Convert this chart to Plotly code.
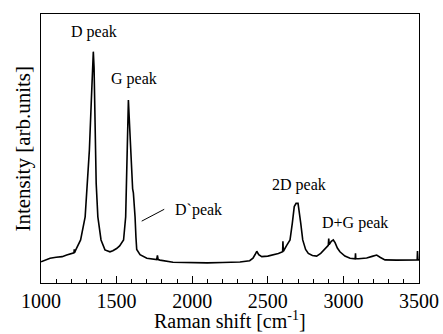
import plotly.graph_objects as go

# Raman spectrum (x: cm^-1, y: arbitrary units, 0-100 scale)
raman_shift = [1000, 1030, 1060, 1100, 1140, 1170, 1200, 1218, 1220, 1222, 1230, 1262, 1292,
               1308, 1320, 1333, 1340, 1346, 1351, 1356, 1360, 1365, 1376, 1397, 1423,
               1440, 1456, 1475, 1500, 1520, 1535, 1546, 1560, 1566, 1570, 1574, 1578, 1583,
               1593, 1600, 1606, 1611, 1616, 1622, 1628, 1633, 1655, 1700, 1765, 1770, 1775,
               1787, 1873, 2000, 2100, 2200, 2316, 2380, 2402, 2415, 2427, 2440, 2460, 2500,
               2530, 2570, 2598, 2600, 2603, 2625, 2647, 2662, 2675, 2687, 2700, 2718, 2731,
               2750, 2768, 2795, 2823, 2850, 2878, 2900, 2903, 2906, 2920, 2933, 2945,
               2960, 2977, 3010, 3044, 3078, 3080, 3082, 3100, 3154, 3190, 3220, 3245, 3275,
               3350, 3420, 3485, 3488, 3490, 3493, 3500]
intensity = [7.9, 8.5, 9.2, 9.6, 9.8, 10.4, 10.8, 11.2, 12.5, 11.3, 12.3, 16, 24.6,
             37, 49.4, 68, 80, 86, 80, 68, 49.4, 37, 24.6, 16, 12.3,
             11.8, 11.6, 12.0, 12.8, 13.8, 15, 16, 24.6, 37, 49.4, 62, 68, 62,
             49.4, 37, 35, 33.5, 30, 24.6, 17, 12.5, 10.5, 9.2, 8.7, 10.3, 8.7,
             8.5, 7.7, 7.5, 7.5, 7.6, 7.8, 8.3, 9.2, 10.5, 11.8, 10.5, 9.8, 10,
             10.4, 11, 11.6, 15.5, 11.8, 14, 16, 22.2, 28.4, 29.6, 29.6, 22.2, 16,
             12.5, 11, 10.2, 10, 11, 12.9, 14, 16.5, 14.3, 15.5, 16, 15,
             13, 11.6, 10, 9.2, 9, 11, 9, 9, 9.3, 9.9, 10.4, 9.5, 8.6,
             8.5, 8.5, 8.6, 8.6, 11.9, 8.6, 8.6]

peak_labels = ["D peak", "G peak", "D`peak", "2D peak", "D+G peak"]
peak_label_x = [1350, 1615, 1875, 2706, 3077]
peak_label_y = [93.4, 75.8, 27.1, 36.4, 22.4]
peak_label_anchor = ["center", "center", "left", "center", "center"]

x_ticks = [1000, 1500, 2000, 2500, 3000, 3500]

FONT = "Liberation Serif"

fig = go.Figure()
fig.add_trace(go.Scatter(x=raman_shift, y=intensity, mode="lines",
                         line=dict(color="black", width=1.6), showlegend=False))

for t, x, y, a in zip(peak_labels, peak_label_x, peak_label_y, peak_label_anchor):
    fig.add_annotation(x=x, y=y, text=t, showarrow=False, xanchor=a, yanchor="middle",
                       font=dict(family=FONT, size=16, color="black"))

# pointer line for D' peak
fig.add_shape(type="line", x0=1666, y0=23.0, x1=1815, y1=27.4, xref="x", yref="y",
              line=dict(color="black", width=1))

# axis titles
fig.add_annotation(text="Raman shift [cm<sup>-1</sup>]", xref="paper", yref="paper",
                   x=0.5, y=-0.137, xanchor="center", yanchor="middle", showarrow=False,
                   font=dict(family=FONT, size=20, color="black"))
fig.add_annotation(text="Intensity [arb.units]", xref="paper", yref="paper",
                   x=-0.05, y=0.5, xanchor="center", yanchor="middle", showarrow=False,
                   textangle=-90, font=dict(family=FONT, size=21, color="black"))

fig.update_layout(
    width=443, height=334,
    margin=dict(l=41, r=24, t=14, b=51),
    paper_bgcolor="white", plot_bgcolor="white",
    xaxis=dict(range=[1000, 3500], tickvals=x_ticks, automargin=False,
               ticks="inside", ticklen=7, tickcolor="black", tickwidth=1,
               minor=dict(dtick=100, ticks="inside", ticklen=4, tickcolor="black", tickwidth=1),
               showgrid=False, zeroline=False, showline=True, linecolor="black", linewidth=1,
               mirror=True,
               tickfont=dict(family=FONT, size=20, color="black")),
    yaxis=dict(range=[0, 100], showticklabels=False, ticks="", automargin=False,
               showgrid=False, zeroline=False, showline=True, linecolor="black", linewidth=1,
               mirror=True),
)

fig.write_html("out.html", config={"displayModeBar": False},
               post_script="document.body.style.margin='0';document.body.style.overflow='hidden';")
